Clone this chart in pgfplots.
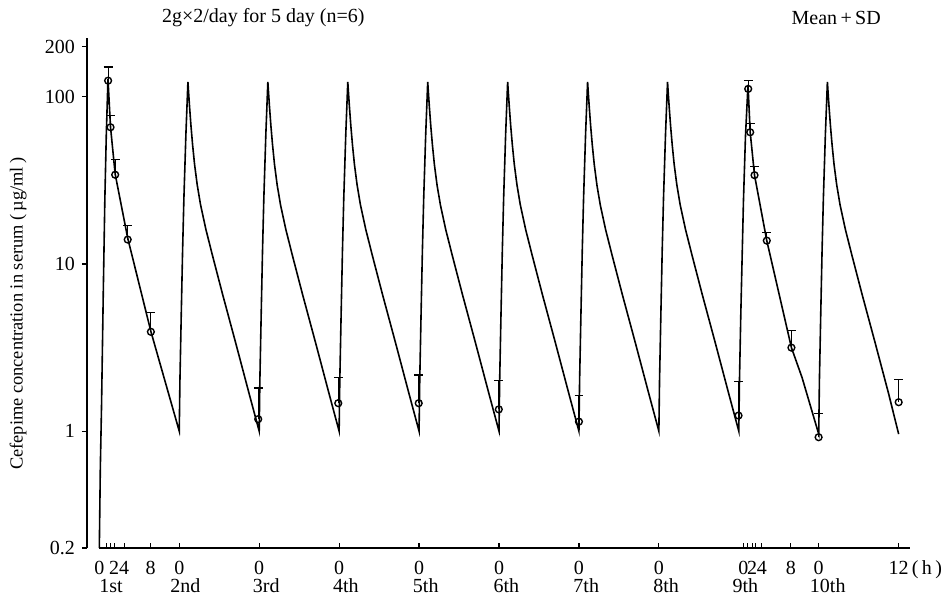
\documentclass[border=0pt]{standalone}
\usepackage{fontspec}
\setmainfont{Liberation Serif}
\usepackage{pgfplots}
\pgfplotsset{compat=1.18}
\begin{document}
\begin{tikzpicture}
\useasboundingbox (-43.5pt,-25.5pt) rectangle (428.5pt,274pt);
\begin{axis}[
  at={(0,0)}, anchor=south west,
  scale only axis, width=411.5pt, height=255pt,
  ymode=log, ymin=0.2, ymax=225,
  xmin=-1.85, xmax=121.7,
  clip=false,
  axis lines=left,
  axis line style={-, line width=0.8pt},
  x axis line style={draw=none},
  ytick={0.2,1,10,100,200},
  yticklabels={0.2,1,10,100,200},
  yminorticks=false,
  xtick={0,1.08,1.73,2.22,3.73,7.7,12,24,36,48,60,72,84,96.7,97.35,98.0,98.5,99.45,103.8,108,120},
  xticklabels={0,,,2,4,8,0,0,0,0,0,0,0,0,,2,,4,8,0,12\rlap{\,(\,h\,)}},
  extra x ticks={1.77,12.92,25.06,37.0,49.0,61.1,73.1,85.1,97.0,109.35},
  extra x tick labels={1st,2nd,3rd,4th,5th,6th,7th,8th,9th,10th},
  extra x tick style={major tick length=0pt, tick label style={yshift=-9pt}},
  xtick align=inside, ytick align=outside,
  major tick length=2.5pt,
  tick style={line width=0.6pt, black},
  xticklabel style={yshift=-3pt},
  tick label style={font=\fontsize{10}{12}\selectfont},
  ylabel={Cefepime concentration in serum (\,µg/ml\,)},
  every axis y label/.style={at={(axis description cs:-0.0838,0.459)}, rotate=90, anchor=center, font=\fontsize{9.2}{11}\selectfont},
]
% simulated serum curve, 10 doses every 12 h
\addplot[black, line width=0.8pt] coordinates {
  (0,0.2) (0.15,0.6) (0.33,1.4) (0.6,7) (0.83,24.5) (1.05,60) (1.3,128) (1.68,66) (2.38,34.5) (4.26,14.3) (7.74,3.95) (12,1.0)
  (12.1,2.0) (12.3,5) (12.5,12) (12.7,25) (13,60) (13.3,123) (13.4,106.5) (13.55,86.9) (13.76,67) (14,51.8) (14.3,39.4) (14.7,29.7) (15.2,22.6) (16,16.1) (17,11.2) (18.5,6.6) (20.5,3.34) (22.5,1.67) (24,1.0)
  (24.1,2.0) (24.3,5) (24.5,12) (24.7,25) (25,60) (25.3,123) (25.4,106.5) (25.55,86.9) (25.76,67) (26,51.8) (26.3,39.4) (26.7,29.7) (27.2,22.6) (28,16.1) (29,11.2) (30.5,6.6) (32.5,3.34) (34.5,1.67) (36,1.0)
  (36.1,2.0) (36.3,5) (36.5,12) (36.7,25) (37,60) (37.3,123) (37.4,106.5) (37.55,86.9) (37.76,67) (38,51.8) (38.3,39.4) (38.7,29.7) (39.2,22.6) (40,16.1) (41,11.2) (42.5,6.6) (44.5,3.34) (46.5,1.67) (48,1.0)
  (48.1,2.0) (48.3,5) (48.5,12) (48.7,25) (49,60) (49.3,123) (49.4,106.5) (49.55,86.9) (49.76,67) (50,51.8) (50.3,39.4) (50.7,29.7) (51.2,22.6) (52,16.1) (53,11.2) (54.5,6.6) (56.5,3.34) (58.5,1.67) (60,1.0)
  (60.1,2.0) (60.3,5) (60.5,12) (60.7,25) (61,60) (61.3,123) (61.4,106.5) (61.55,86.9) (61.76,67) (62,51.8) (62.3,39.4) (62.7,29.7) (63.2,22.6) (64,16.1) (65,11.2) (66.5,6.6) (68.5,3.34) (70.5,1.67) (72,1.0)
  (72.1,2.0) (72.3,5) (72.5,12) (72.7,25) (73,60) (73.3,123) (73.4,106.5) (73.55,86.9) (73.76,67) (74,51.8) (74.3,39.4) (74.7,29.7) (75.2,22.6) (76,16.1) (77,11.2) (78.5,6.6) (80.5,3.34) (82.5,1.67) (84,1.0)
  (84.1,2.0) (84.3,5) (84.5,12) (84.7,25) (85,60) (85.3,123) (85.4,106.5) (85.55,86.9) (85.76,67) (86,51.8) (86.3,39.4) (86.7,29.7) (87.2,22.6) (88,16.1) (89,11.2) (90.5,6.6) (92.5,3.34) (94.5,1.67) (96,1.0)
  (96.1,2.0) (96.3,5) (96.5,11) (96.7,24) (97.0,58) (97.38,118) (97.71,61.4) (98.36,34) (100.2,13.8) (103.9,3.16) (105.5,2.09) (108,0.96)
  (108.1,2.0) (108.3,5) (108.5,12) (108.7,25) (109,60) (109.3,123) (109.4,106.5) (109.55,86.9) (109.76,67) (110,51.8) (110.3,39.4) (110.7,29.7) (111.2,22.6) (112,16.1) (113,11.2) (114.5,6.6) (116.5,3.34) (118.5,1.67) (120,0.96)
};
% measured mean + SD
\addplot[black, only marks, mark=o, mark size=1.7pt,
  mark options={fill=white, line width=0.7pt},
  error bars/.cd, y dir=plus, y explicit,
  error mark=|,
  error bar style={line width=0.6pt},
  error mark options={line width=0.6pt, mark size=2.2pt}] coordinates {
  (1.32,125) +- (0,25.7)
  (1.68,65.8) +- (0,11.6)
  (2.38,34.2) +- (0,8.2)
  (4.26,14.0) +- (0,3.0)
  (7.74,3.93) +- (0,1.17)
  (23.85,1.18) +- (0,0.63)
  (35.87,1.47) +- (0,0.62)
  (47.95,1.47) +- (0,0.70)
  (59.97,1.35) +- (0,0.65)
  (72.0,1.14) +- (0,0.50)
  (95.96,1.24) +- (0,0.74)
  (97.41,111.6) +- (0,14)
  (97.71,61.4) +- (0,7.7)
  (98.36,34.0) +- (0,4.2)
  (100.2,13.8) +- (0,1.6)
  (103.9,3.16) +- (0,0.84)
  (107.98,0.92) +- (0,0.35)
  (120,1.49) +- (0,0.55)
};
\draw[line width=0.8pt] (axis cs:-0.1,0.2) -- (axis cs:121.7,0.2);
\node[anchor=west, font=\fontsize{10}{12}\selectfont] at (axis description cs:0.0826,1.039) {2g×2/day for 5 day (n=6)};
\node[anchor=east, font=\fontsize{10}{12}\selectfont] at (axis description cs:0.973,1.039) {Mean\,+\,SD};
\end{axis}
\end{tikzpicture}
\end{document}
